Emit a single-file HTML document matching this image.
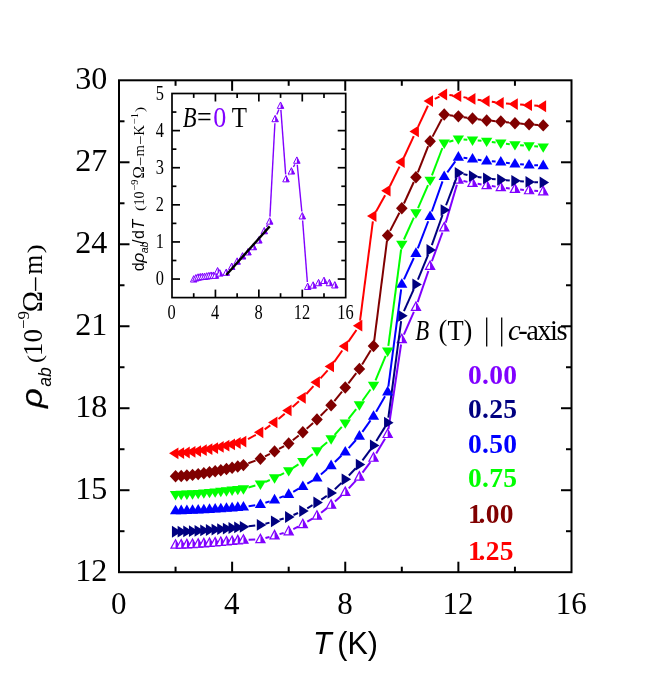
<!DOCTYPE html>
<html><head><meta charset="utf-8"><title>chart</title>
<style>html,body{margin:0;padding:0;background:#fff}svg{display:block;will-change:transform;transform:translateZ(0)}text{white-space:pre}</style></head>
<body>
<svg width="664" height="686" viewBox="0 0 664 686">
<rect width="664" height="686" fill="#fff"/>
<g>
<line x1="248.63" y1="539.79" x2="255.21" y2="539.57" stroke="#8000ff" stroke-width="2"/><line x1="265.43" y1="538.05" x2="269.53" y2="536.94" stroke="#8000ff" stroke-width="2"/><line x1="279.54" y1="534.13" x2="283.69" y2="532.93" stroke="#8000ff" stroke-width="2"/><line x1="293.33" y1="529.15" x2="298.18" y2="526.71" stroke="#8000ff" stroke-width="2"/><line x1="307.29" y1="521.70" x2="312.51" y2="518.58" stroke="#8000ff" stroke-width="2"/><line x1="321.08" y1="512.72" x2="327.00" y2="508.15" stroke="#8000ff" stroke-width="2"/><line x1="334.96" y1="501.48" x2="341.40" y2="495.63" stroke="#8000ff" stroke-width="2"/><line x1="348.78" y1="488.31" x2="355.86" y2="480.65" stroke="#8000ff" stroke-width="2"/><line x1="362.51" y1="472.67" x2="370.41" y2="462.13" stroke="#8000ff" stroke-width="2"/><line x1="376.19" y1="453.50" x2="385.01" y2="438.66" stroke="#8000ff" stroke-width="2"/><line x1="388.44" y1="429.05" x2="401.05" y2="344.51" stroke="#8000ff" stroke-width="2"/><line x1="403.90" y1="334.61" x2="413.86" y2="311.88" stroke="#8000ff" stroke-width="2"/><line x1="417.65" y1="302.20" x2="428.40" y2="271.04" stroke="#8000ff" stroke-width="2"/><line x1="431.89" y1="261.25" x2="442.44" y2="232.48" stroke="#8000ff" stroke-width="2"/><line x1="445.71" y1="222.61" x2="456.90" y2="184.76" stroke="#8000ff" stroke-width="2"/><line x1="463.44" y1="180.95" x2="467.45" y2="181.88" stroke="#8000ff" stroke-width="2"/><line x1="477.65" y1="183.85" x2="481.52" y2="184.44" stroke="#8000ff" stroke-width="2"/><line x1="491.80" y1="186.03" x2="495.66" y2="186.63" stroke="#8000ff" stroke-width="2"/><line x1="505.96" y1="188.02" x2="509.77" y2="188.47" stroke="#8000ff" stroke-width="2"/><line x1="520.11" y1="189.56" x2="523.90" y2="189.93" stroke="#8000ff" stroke-width="2"/><line x1="534.26" y1="190.83" x2="538.03" y2="191.12" stroke="#8000ff" stroke-width="2"/>
<polygon points="175.56,539.67 180.16,548.17 170.96,548.17" fill="#fff" stroke="#8000ff" stroke-width="1.20" stroke-linejoin="miter"/><polygon points="175.56,539.67 180.16,548.17 175.56,548.17" fill="#8000ff"/>
<polygon points="181.22,539.55 185.82,548.05 176.62,548.05" fill="#fff" stroke="#8000ff" stroke-width="1.20" stroke-linejoin="miter"/><polygon points="181.22,539.55 185.82,548.05 181.22,548.05" fill="#8000ff"/>
<polygon points="186.88,539.34 191.47,547.84 182.28,547.84" fill="#fff" stroke="#8000ff" stroke-width="1.20" stroke-linejoin="miter"/><polygon points="186.88,539.34 191.47,547.84 186.88,547.84" fill="#8000ff"/>
<polygon points="192.53,539.06 197.13,547.56 187.93,547.56" fill="#fff" stroke="#8000ff" stroke-width="1.20" stroke-linejoin="miter"/><polygon points="192.53,539.06 197.13,547.56 192.53,547.56" fill="#8000ff"/>
<polygon points="198.19,538.73 202.79,547.23 193.59,547.23" fill="#fff" stroke="#8000ff" stroke-width="1.20" stroke-linejoin="miter"/><polygon points="198.19,538.73 202.79,547.23 198.19,547.23" fill="#8000ff"/>
<polygon points="203.84,538.35 208.44,546.85 199.24,546.85" fill="#fff" stroke="#8000ff" stroke-width="1.20" stroke-linejoin="miter"/><polygon points="203.84,538.35 208.44,546.85 203.84,546.85" fill="#8000ff"/>
<polygon points="209.50,537.93 214.10,546.43 204.90,546.43" fill="#fff" stroke="#8000ff" stroke-width="1.20" stroke-linejoin="miter"/><polygon points="209.50,537.93 214.10,546.43 209.50,546.43" fill="#8000ff"/>
<polygon points="215.16,537.48 219.76,545.98 210.56,545.98" fill="#fff" stroke="#8000ff" stroke-width="1.20" stroke-linejoin="miter"/><polygon points="215.16,537.48 219.76,545.98 215.16,545.98" fill="#8000ff"/>
<polygon points="220.81,536.99 225.41,545.49 216.21,545.49" fill="#fff" stroke="#8000ff" stroke-width="1.20" stroke-linejoin="miter"/><polygon points="220.81,536.99 225.41,545.49 220.81,545.49" fill="#8000ff"/>
<polygon points="226.47,536.48 231.07,544.98 221.87,544.98" fill="#fff" stroke="#8000ff" stroke-width="1.20" stroke-linejoin="miter"/><polygon points="226.47,536.48 231.07,544.98 226.47,544.98" fill="#8000ff"/>
<polygon points="232.12,535.93 236.72,544.43 227.53,544.43" fill="#fff" stroke="#8000ff" stroke-width="1.20" stroke-linejoin="miter"/><polygon points="232.12,535.93 236.72,544.43 232.12,544.43" fill="#8000ff"/>
<polygon points="237.78,535.36 242.38,543.86 233.18,543.86" fill="#fff" stroke="#8000ff" stroke-width="1.20" stroke-linejoin="miter"/><polygon points="237.78,535.36 242.38,543.86 237.78,543.86" fill="#8000ff"/>
<polygon points="243.44,534.75 248.04,543.25 238.84,543.25" fill="#fff" stroke="#8000ff" stroke-width="1.20" stroke-linejoin="miter"/><polygon points="243.44,534.75 248.04,543.25 243.44,543.25" fill="#8000ff"/>
<polygon points="260.41,534.21 265.01,542.71 255.81,542.71" fill="#fff" stroke="#8000ff" stroke-width="1.20" stroke-linejoin="miter"/><polygon points="260.41,534.21 265.01,542.71 260.41,542.71" fill="#8000ff"/>
<polygon points="274.55,530.38 279.15,538.88 269.95,538.88" fill="#fff" stroke="#8000ff" stroke-width="1.20" stroke-linejoin="miter"/><polygon points="274.55,530.38 279.15,538.88 274.55,538.88" fill="#8000ff"/>
<polygon points="288.69,526.28 293.29,534.78 284.09,534.78" fill="#fff" stroke="#8000ff" stroke-width="1.20" stroke-linejoin="miter"/><polygon points="288.69,526.28 293.29,534.78 288.69,534.78" fill="#8000ff"/>
<polygon points="302.83,519.18 307.43,527.68 298.23,527.68" fill="#fff" stroke="#8000ff" stroke-width="1.20" stroke-linejoin="miter"/><polygon points="302.83,519.18 307.43,527.68 302.83,527.68" fill="#8000ff"/>
<polygon points="316.97,510.70 321.57,519.20 312.37,519.20" fill="#fff" stroke="#8000ff" stroke-width="1.20" stroke-linejoin="miter"/><polygon points="316.97,510.70 321.57,519.20 316.97,519.20" fill="#8000ff"/>
<polygon points="331.11,499.77 335.71,508.27 326.51,508.27" fill="#fff" stroke="#8000ff" stroke-width="1.20" stroke-linejoin="miter"/><polygon points="331.11,499.77 335.71,508.27 331.11,508.27" fill="#8000ff"/>
<polygon points="345.25,486.93 349.85,495.43 340.65,495.43" fill="#fff" stroke="#8000ff" stroke-width="1.20" stroke-linejoin="miter"/><polygon points="345.25,486.93 349.85,495.43 345.25,495.43" fill="#8000ff"/>
<polygon points="359.39,471.63 363.99,480.13 354.79,480.13" fill="#fff" stroke="#8000ff" stroke-width="1.20" stroke-linejoin="miter"/><polygon points="359.39,471.63 363.99,480.13 359.39,480.13" fill="#8000ff"/>
<polygon points="373.53,452.77 378.13,461.27 368.93,461.27" fill="#fff" stroke="#8000ff" stroke-width="1.20" stroke-linejoin="miter"/><polygon points="373.53,452.77 378.13,461.27 373.53,461.27" fill="#8000ff"/>
<polygon points="387.67,428.99 392.27,437.49 383.07,437.49" fill="#fff" stroke="#8000ff" stroke-width="1.20" stroke-linejoin="miter"/><polygon points="387.67,428.99 392.27,437.49 387.67,437.49" fill="#8000ff"/>
<polygon points="401.81,334.17 406.41,342.67 397.21,342.67" fill="#fff" stroke="#8000ff" stroke-width="1.20" stroke-linejoin="miter"/><polygon points="401.81,334.17 406.41,342.67 401.81,342.67" fill="#8000ff"/>
<polygon points="415.95,301.92 420.55,310.42 411.35,310.42" fill="#fff" stroke="#8000ff" stroke-width="1.20" stroke-linejoin="miter"/><polygon points="415.95,301.92 420.55,310.42 415.95,310.42" fill="#8000ff"/>
<polygon points="430.09,260.93 434.69,269.43 425.49,269.43" fill="#fff" stroke="#8000ff" stroke-width="1.20" stroke-linejoin="miter"/><polygon points="430.09,260.93 434.69,269.43 430.09,269.43" fill="#8000ff"/>
<polygon points="444.23,222.40 448.83,230.90 439.63,230.90" fill="#fff" stroke="#8000ff" stroke-width="1.20" stroke-linejoin="miter"/><polygon points="444.23,222.40 448.83,230.90 444.23,230.90" fill="#8000ff"/>
<polygon points="458.38,174.57 462.98,183.07 453.77,183.07" fill="#fff" stroke="#8000ff" stroke-width="1.20" stroke-linejoin="miter"/><polygon points="458.38,174.57 462.98,183.07 458.38,183.07" fill="#8000ff"/>
<polygon points="472.52,177.85 477.12,186.35 467.92,186.35" fill="#fff" stroke="#8000ff" stroke-width="1.20" stroke-linejoin="miter"/><polygon points="472.52,177.85 477.12,186.35 472.52,186.35" fill="#8000ff"/>
<polygon points="486.66,180.04 491.26,188.54 482.06,188.54" fill="#fff" stroke="#8000ff" stroke-width="1.20" stroke-linejoin="miter"/><polygon points="486.66,180.04 491.26,188.54 486.66,188.54" fill="#8000ff"/>
<polygon points="500.80,182.22 505.40,190.72 496.20,190.72" fill="#fff" stroke="#8000ff" stroke-width="1.20" stroke-linejoin="miter"/><polygon points="500.80,182.22 505.40,190.72 500.80,190.72" fill="#8000ff"/>
<polygon points="514.94,183.86 519.54,192.36 510.34,192.36" fill="#fff" stroke="#8000ff" stroke-width="1.20" stroke-linejoin="miter"/><polygon points="514.94,183.86 519.54,192.36 514.94,192.36" fill="#8000ff"/>
<polygon points="529.08,185.23 533.68,193.73 524.48,193.73" fill="#fff" stroke="#8000ff" stroke-width="1.20" stroke-linejoin="miter"/><polygon points="529.08,185.23 533.68,193.73 529.08,193.73" fill="#8000ff"/>
<polygon points="543.22,186.32 547.82,194.82 538.62,194.82" fill="#fff" stroke="#8000ff" stroke-width="1.20" stroke-linejoin="miter"/><polygon points="543.22,186.32 547.82,194.82 543.22,194.82" fill="#8000ff"/>
</g>
<g>
<line x1="248.60" y1="526.25" x2="255.24" y2="525.51" stroke="#000080" stroke-width="2"/><line x1="265.45" y1="523.66" x2="269.50" y2="522.64" stroke="#000080" stroke-width="2"/><line x1="279.51" y1="519.83" x2="283.72" y2="518.53" stroke="#000080" stroke-width="2"/><line x1="293.47" y1="514.96" x2="298.04" y2="513.02" stroke="#000080" stroke-width="2"/><line x1="307.29" y1="508.31" x2="312.51" y2="505.19" stroke="#000080" stroke-width="2"/><line x1="321.28" y1="499.60" x2="326.80" y2="495.86" stroke="#000080" stroke-width="2"/><line x1="334.85" y1="489.34" x2="341.51" y2="482.90" stroke="#000080" stroke-width="2"/><line x1="348.85" y1="475.53" x2="355.79" y2="468.28" stroke="#000080" stroke-width="2"/><line x1="362.48" y1="460.35" x2="370.44" y2="449.58" stroke="#000080" stroke-width="2"/><line x1="376.28" y1="440.99" x2="384.92" y2="427.13" stroke="#000080" stroke-width="2"/><line x1="388.35" y1="417.56" x2="401.13" y2="321.02" stroke="#000080" stroke-width="2"/><line x1="403.95" y1="311.12" x2="413.82" y2="289.18" stroke="#000080" stroke-width="2"/><line x1="417.93" y1="279.63" x2="428.12" y2="254.82" stroke="#000080" stroke-width="2"/><line x1="431.83" y1="245.10" x2="442.50" y2="215.01" stroke="#000080" stroke-width="2"/><line x1="446.08" y1="205.25" x2="456.53" y2="177.80" stroke="#000080" stroke-width="2"/><line x1="463.44" y1="174.12" x2="467.45" y2="175.05" stroke="#000080" stroke-width="2"/><line x1="477.65" y1="177.02" x2="481.52" y2="177.61" stroke="#000080" stroke-width="2"/><line x1="491.83" y1="178.91" x2="495.62" y2="179.27" stroke="#000080" stroke-width="2"/><line x1="505.98" y1="180.17" x2="509.75" y2="180.47" stroke="#000080" stroke-width="2"/><line x1="520.12" y1="181.27" x2="523.89" y2="181.56" stroke="#000080" stroke-width="2"/><line x1="534.27" y1="182.16" x2="538.02" y2="182.31" stroke="#000080" stroke-width="2"/>
<polygon points="181.46,531.75 171.96,537.65 171.96,525.85" fill="#000080"/>
<polygon points="187.12,531.64 177.62,537.54 177.62,525.74" fill="#000080"/>
<polygon points="192.78,531.42 183.28,537.32 183.28,525.52" fill="#000080"/>
<polygon points="198.43,531.14 188.93,537.04 188.93,525.24" fill="#000080"/>
<polygon points="204.09,530.81 194.59,536.71 194.59,524.91" fill="#000080"/>
<polygon points="209.74,530.43 200.24,536.33 200.24,524.53" fill="#000080"/>
<polygon points="215.40,530.02 205.90,535.92 205.90,524.12" fill="#000080"/>
<polygon points="221.06,529.56 211.56,535.46 211.56,523.66" fill="#000080"/>
<polygon points="226.71,529.08 217.21,534.98 217.21,523.18" fill="#000080"/>
<polygon points="232.37,528.56 222.87,534.46 222.87,522.66" fill="#000080"/>
<polygon points="238.03,528.01 228.53,533.91 228.53,522.11" fill="#000080"/>
<polygon points="243.68,527.44 234.18,533.34 234.18,521.54" fill="#000080"/>
<polygon points="249.34,526.84 239.84,532.74 239.84,520.94" fill="#000080"/>
<polygon points="266.31,524.92 256.81,530.82 256.81,519.02" fill="#000080"/>
<polygon points="280.45,521.37 270.95,527.27 270.95,515.47" fill="#000080"/>
<polygon points="294.59,517.00 285.09,522.90 285.09,511.10" fill="#000080"/>
<polygon points="308.73,510.99 299.23,516.89 299.23,505.09" fill="#000080"/>
<polygon points="322.87,502.51 313.37,508.41 313.37,496.61" fill="#000080"/>
<polygon points="337.01,492.95 327.51,498.85 327.51,487.05" fill="#000080"/>
<polygon points="351.15,479.29 341.65,485.19 341.65,473.39" fill="#000080"/>
<polygon points="365.29,464.53 355.79,470.43 355.79,458.63" fill="#000080"/>
<polygon points="379.43,445.40 369.93,451.30 369.93,439.50" fill="#000080"/>
<polygon points="393.57,422.72 384.07,428.62 384.07,416.82" fill="#000080"/>
<polygon points="407.71,315.87 398.21,321.77 398.21,309.97" fill="#000080"/>
<polygon points="421.85,284.44 412.35,290.34 412.35,278.54" fill="#000080"/>
<polygon points="435.99,250.01 426.49,255.91 426.49,244.11" fill="#000080"/>
<polygon points="450.13,210.11 440.63,216.01 440.63,204.21" fill="#000080"/>
<polygon points="464.27,172.94 454.77,178.84 454.77,167.04" fill="#000080"/>
<polygon points="478.42,176.22 468.92,182.12 468.92,170.32" fill="#000080"/>
<polygon points="492.56,178.41 483.06,184.31 483.06,172.51" fill="#000080"/>
<polygon points="506.70,179.77 497.20,185.67 497.20,173.87" fill="#000080"/>
<polygon points="520.84,180.87 511.34,186.77 511.34,174.97" fill="#000080"/>
<polygon points="534.98,181.96 525.48,187.86 525.48,176.06" fill="#000080"/>
<polygon points="549.12,182.51 539.62,188.41 539.62,176.61" fill="#000080"/>
</g>
<g>
<line x1="248.58" y1="506.14" x2="255.26" y2="505.17" stroke="#0000ff" stroke-width="2"/><line x1="265.35" y1="502.80" x2="269.61" y2="501.40" stroke="#0000ff" stroke-width="2"/><line x1="279.40" y1="497.91" x2="283.84" y2="496.19" stroke="#0000ff" stroke-width="2"/><line x1="293.22" y1="491.77" x2="298.29" y2="488.93" stroke="#0000ff" stroke-width="2"/><line x1="307.29" y1="483.72" x2="312.51" y2="480.59" stroke="#0000ff" stroke-width="2"/><line x1="320.89" y1="474.51" x2="327.19" y2="469.03" stroke="#0000ff" stroke-width="2"/><line x1="334.85" y1="462.01" x2="341.51" y2="455.57" stroke="#0000ff" stroke-width="2"/><line x1="348.71" y1="448.08" x2="355.93" y2="439.99" stroke="#0000ff" stroke-width="2"/><line x1="362.40" y1="431.87" x2="370.52" y2="420.40" stroke="#0000ff" stroke-width="2"/><line x1="376.14" y1="411.66" x2="385.06" y2="396.33" stroke="#0000ff" stroke-width="2"/><line x1="388.35" y1="386.68" x2="401.14" y2="289.32" stroke="#0000ff" stroke-width="2"/><line x1="403.98" y1="279.44" x2="413.79" y2="258.01" stroke="#0000ff" stroke-width="2"/><line x1="417.81" y1="248.43" x2="428.23" y2="221.25" stroke="#0000ff" stroke-width="2"/><line x1="431.83" y1="211.49" x2="442.50" y2="181.40" stroke="#0000ff" stroke-width="2"/><line x1="447.30" y1="172.29" x2="455.31" y2="161.29" stroke="#0000ff" stroke-width="2"/><line x1="463.53" y1="157.79" x2="467.36" y2="158.31" stroke="#0000ff" stroke-width="2"/><line x1="477.67" y1="159.70" x2="481.50" y2="160.22" stroke="#0000ff" stroke-width="2"/><line x1="491.84" y1="161.32" x2="495.61" y2="161.61" stroke="#0000ff" stroke-width="2"/><line x1="505.95" y1="162.71" x2="509.78" y2="163.23" stroke="#0000ff" stroke-width="2"/><line x1="520.12" y1="164.32" x2="523.89" y2="164.62" stroke="#0000ff" stroke-width="2"/><line x1="534.27" y1="165.22" x2="538.02" y2="165.36" stroke="#0000ff" stroke-width="2"/>
<polygon points="175.56,504.71 181.16,514.31 169.96,514.31" fill="#0000ff"/>
<polygon points="181.22,504.62 186.82,514.22 175.62,514.22" fill="#0000ff"/>
<polygon points="186.88,504.45 192.47,514.05 181.28,514.05" fill="#0000ff"/>
<polygon points="192.53,504.23 198.13,513.83 186.93,513.83" fill="#0000ff"/>
<polygon points="198.19,503.98 203.79,513.58 192.59,513.58" fill="#0000ff"/>
<polygon points="203.84,503.68 209.44,513.28 198.24,513.28" fill="#0000ff"/>
<polygon points="209.50,503.36 215.10,512.96 203.90,512.96" fill="#0000ff"/>
<polygon points="215.16,503.01 220.76,512.61 209.56,512.61" fill="#0000ff"/>
<polygon points="220.81,502.63 226.41,512.23 215.21,512.23" fill="#0000ff"/>
<polygon points="226.47,502.23 232.07,511.83 220.87,511.83" fill="#0000ff"/>
<polygon points="232.12,501.80 237.72,511.40 226.53,511.40" fill="#0000ff"/>
<polygon points="237.78,501.35 243.38,510.95 232.18,510.95" fill="#0000ff"/>
<polygon points="243.44,500.89 249.04,510.49 237.84,510.49" fill="#0000ff"/>
<polygon points="260.41,498.43 266.01,508.03 254.81,508.03" fill="#0000ff"/>
<polygon points="274.55,493.78 280.15,503.38 268.95,503.38" fill="#0000ff"/>
<polygon points="288.69,488.32 294.29,497.92 283.09,497.92" fill="#0000ff"/>
<polygon points="302.83,480.39 308.43,489.99 297.23,489.99" fill="#0000ff"/>
<polygon points="316.97,471.92 322.57,481.52 311.37,481.52" fill="#0000ff"/>
<polygon points="331.11,459.62 336.71,469.22 325.51,469.22" fill="#0000ff"/>
<polygon points="345.25,445.96 350.85,455.56 339.65,455.56" fill="#0000ff"/>
<polygon points="359.39,430.11 364.99,439.71 353.79,439.71" fill="#0000ff"/>
<polygon points="373.53,410.16 379.13,419.76 367.93,419.76" fill="#0000ff"/>
<polygon points="387.67,385.84 393.27,395.44 382.07,395.44" fill="#0000ff"/>
<polygon points="401.81,278.17 407.41,287.77 396.21,287.77" fill="#0000ff"/>
<polygon points="415.95,247.28 421.55,256.88 410.35,256.88" fill="#0000ff"/>
<polygon points="430.09,210.39 435.69,219.99 424.49,219.99" fill="#0000ff"/>
<polygon points="444.23,170.49 449.83,180.09 438.63,180.09" fill="#0000ff"/>
<polygon points="458.38,151.09 463.98,160.69 452.77,160.69" fill="#0000ff"/>
<polygon points="472.52,153.00 478.12,162.60 466.92,162.60" fill="#0000ff"/>
<polygon points="486.66,154.92 492.26,164.52 481.06,164.52" fill="#0000ff"/>
<polygon points="500.80,156.01 506.40,165.61 495.20,165.61" fill="#0000ff"/>
<polygon points="514.94,157.92 520.54,167.52 509.34,167.52" fill="#0000ff"/>
<polygon points="529.08,159.02 534.68,168.62 523.48,168.62" fill="#0000ff"/>
<polygon points="543.22,159.56 548.82,169.16 537.62,169.16" fill="#0000ff"/>
</g>
<g>
<line x1="248.45" y1="487.48" x2="255.39" y2="485.58" stroke="#00ff00" stroke-width="2"/><line x1="265.16" y1="482.09" x2="269.80" y2="480.03" stroke="#00ff00" stroke-width="2"/><line x1="279.19" y1="475.58" x2="284.04" y2="473.15" stroke="#00ff00" stroke-width="2"/><line x1="293.03" y1="467.96" x2="298.48" y2="464.38" stroke="#00ff00" stroke-width="2"/><line x1="306.98" y1="458.39" x2="312.82" y2="453.99" stroke="#00ff00" stroke-width="2"/><line x1="320.93" y1="447.50" x2="327.15" y2="442.21" stroke="#00ff00" stroke-width="2"/><line x1="334.57" y1="434.96" x2="341.79" y2="426.87" stroke="#00ff00" stroke-width="2"/><line x1="348.46" y1="418.90" x2="356.18" y2="409.05" stroke="#00ff00" stroke-width="2"/><line x1="362.43" y1="400.73" x2="370.50" y2="389.50" stroke="#00ff00" stroke-width="2"/><line x1="375.52" y1="380.47" x2="385.68" y2="355.92" stroke="#00ff00" stroke-width="2"/><line x1="388.35" y1="345.96" x2="401.13" y2="249.42" stroke="#00ff00" stroke-width="2"/><line x1="403.95" y1="239.52" x2="413.82" y2="217.58" stroke="#00ff00" stroke-width="2"/><line x1="418.03" y1="208.07" x2="428.02" y2="185.09" stroke="#00ff00" stroke-width="2"/><line x1="431.94" y1="175.46" x2="442.39" y2="148.01" stroke="#00ff00" stroke-width="2"/><line x1="449.23" y1="141.71" x2="453.38" y2="140.50" stroke="#00ff00" stroke-width="2"/><line x1="463.56" y1="139.46" x2="467.33" y2="139.75" stroke="#00ff00" stroke-width="2"/><line x1="477.70" y1="140.55" x2="481.47" y2="140.84" stroke="#00ff00" stroke-width="2"/><line x1="491.81" y1="141.94" x2="495.64" y2="142.46" stroke="#00ff00" stroke-width="2"/><line x1="505.96" y1="143.75" x2="509.77" y2="144.19" stroke="#00ff00" stroke-width="2"/><line x1="520.12" y1="145.19" x2="523.89" y2="145.49" stroke="#00ff00" stroke-width="2"/><line x1="534.26" y1="146.29" x2="538.03" y2="146.58" stroke="#00ff00" stroke-width="2"/>
<polygon points="175.56,500.39 181.26,490.99 169.86,490.99" fill="#00ff00"/>
<polygon points="181.22,500.25 186.92,490.85 175.52,490.85" fill="#00ff00"/>
<polygon points="186.88,500.00 192.57,490.60 181.18,490.60" fill="#00ff00"/>
<polygon points="192.53,499.67 198.23,490.27 186.83,490.27" fill="#00ff00"/>
<polygon points="198.19,499.28 203.89,489.88 192.49,489.88" fill="#00ff00"/>
<polygon points="203.84,498.85 209.54,489.45 198.14,489.45" fill="#00ff00"/>
<polygon points="209.50,498.36 215.20,488.96 203.80,488.96" fill="#00ff00"/>
<polygon points="215.16,497.83 220.86,488.43 209.46,488.43" fill="#00ff00"/>
<polygon points="220.81,497.27 226.51,487.87 215.11,487.87" fill="#00ff00"/>
<polygon points="226.47,496.66 232.17,487.26 220.77,487.26" fill="#00ff00"/>
<polygon points="232.12,496.02 237.82,486.62 226.43,486.62" fill="#00ff00"/>
<polygon points="237.78,495.35 243.48,485.95 232.08,485.95" fill="#00ff00"/>
<polygon points="243.44,494.65 249.14,485.25 237.74,485.25" fill="#00ff00"/>
<polygon points="260.41,490.00 266.11,480.60 254.71,480.60" fill="#00ff00"/>
<polygon points="274.55,483.72 280.25,474.32 268.85,474.32" fill="#00ff00"/>
<polygon points="288.69,476.61 294.39,467.21 282.99,467.21" fill="#00ff00"/>
<polygon points="302.83,467.32 308.53,457.92 297.13,457.92" fill="#00ff00"/>
<polygon points="316.97,456.66 322.67,447.26 311.27,447.26" fill="#00ff00"/>
<polygon points="331.11,444.64 336.81,435.24 325.41,435.24" fill="#00ff00"/>
<polygon points="345.25,428.79 350.95,419.39 339.55,419.39" fill="#00ff00"/>
<polygon points="359.39,410.75 365.09,401.35 353.69,401.35" fill="#00ff00"/>
<polygon points="373.53,391.08 379.23,381.68 367.83,381.68" fill="#00ff00"/>
<polygon points="387.67,356.92 393.37,347.52 381.97,347.52" fill="#00ff00"/>
<polygon points="401.81,250.07 407.51,240.67 396.11,240.67" fill="#00ff00"/>
<polygon points="415.95,218.64 421.65,209.24 410.25,209.24" fill="#00ff00"/>
<polygon points="430.09,186.12 435.79,176.72 424.39,176.72" fill="#00ff00"/>
<polygon points="444.23,148.95 449.93,139.55 438.53,139.55" fill="#00ff00"/>
<polygon points="458.38,144.85 464.07,135.45 452.68,135.45" fill="#00ff00"/>
<polygon points="472.52,145.95 478.22,136.55 466.82,136.55" fill="#00ff00"/>
<polygon points="486.66,147.04 492.36,137.64 480.96,137.64" fill="#00ff00"/>
<polygon points="500.80,148.95 506.50,139.55 495.10,139.55" fill="#00ff00"/>
<polygon points="514.94,150.59 520.64,141.19 509.24,141.19" fill="#00ff00"/>
<polygon points="529.08,151.69 534.78,142.29 523.38,142.29" fill="#00ff00"/>
<polygon points="543.22,152.78 548.92,143.38 537.52,143.38" fill="#00ff00"/>
</g>
<g>
<line x1="248.31" y1="463.27" x2="255.53" y2="460.60" stroke="#800000" stroke-width="2"/><line x1="265.02" y1="456.38" x2="269.94" y2="453.82" stroke="#800000" stroke-width="2"/><line x1="279.08" y1="448.87" x2="284.15" y2="446.03" stroke="#800000" stroke-width="2"/><line x1="292.76" y1="440.26" x2="298.75" y2="435.51" stroke="#800000" stroke-width="2"/><line x1="306.68" y1="428.79" x2="313.12" y2="422.93" stroke="#800000" stroke-width="2"/><line x1="320.64" y1="415.75" x2="327.44" y2="408.91" stroke="#800000" stroke-width="2"/><line x1="334.35" y1="401.16" x2="342.01" y2="391.53" stroke="#800000" stroke-width="2"/><line x1="348.40" y1="383.33" x2="356.24" y2="373.02" stroke="#800000" stroke-width="2"/><line x1="362.12" y1="364.45" x2="370.80" y2="350.35" stroke="#800000" stroke-width="2"/><line x1="374.19" y1="340.77" x2="387.01" y2="240.68" stroke="#800000" stroke-width="2"/><line x1="390.06" y1="230.90" x2="399.42" y2="212.81" stroke="#800000" stroke-width="2"/><line x1="403.98" y1="203.47" x2="413.79" y2="182.04" stroke="#800000" stroke-width="2"/><line x1="417.85" y1="172.47" x2="428.20" y2="146.08" stroke="#800000" stroke-width="2"/><line x1="432.52" y1="136.64" x2="441.81" y2="119.06" stroke="#800000" stroke-width="2"/><line x1="449.39" y1="115.16" x2="453.22" y2="115.68" stroke="#800000" stroke-width="2"/><line x1="463.51" y1="117.17" x2="467.38" y2="117.76" stroke="#800000" stroke-width="2"/><line x1="477.67" y1="119.26" x2="481.50" y2="119.77" stroke="#800000" stroke-width="2"/><line x1="491.84" y1="120.87" x2="495.61" y2="121.16" stroke="#800000" stroke-width="2"/><line x1="505.96" y1="122.16" x2="509.77" y2="122.61" stroke="#800000" stroke-width="2"/><line x1="520.12" y1="123.61" x2="523.89" y2="123.90" stroke="#800000" stroke-width="2"/><line x1="534.26" y1="124.70" x2="538.03" y2="124.99" stroke="#800000" stroke-width="2"/>
<polygon points="175.56,470.08 181.36,476.28 175.56,482.48 169.76,476.28" fill="#800000"/>
<polygon points="181.22,469.81 187.02,476.01 181.22,482.21 175.42,476.01" fill="#800000"/>
<polygon points="186.88,469.32 192.68,475.52 186.88,481.72 181.07,475.52" fill="#800000"/>
<polygon points="192.53,468.68 198.33,474.88 192.53,481.08 186.73,474.88" fill="#800000"/>
<polygon points="198.19,467.92 203.99,474.12 198.19,480.32 192.39,474.12" fill="#800000"/>
<polygon points="203.84,467.07 209.64,473.27 203.84,479.47 198.04,473.27" fill="#800000"/>
<polygon points="209.50,466.12 215.30,472.32 209.50,478.52 203.70,472.32" fill="#800000"/>
<polygon points="215.16,465.09 220.96,471.29 215.16,477.49 209.36,471.29" fill="#800000"/>
<polygon points="220.81,463.98 226.61,470.18 220.81,476.38 215.01,470.18" fill="#800000"/>
<polygon points="226.47,462.80 232.27,469.00 226.47,475.20 220.67,469.00" fill="#800000"/>
<polygon points="232.12,461.56 237.93,467.76 232.12,473.96 226.32,467.76" fill="#800000"/>
<polygon points="237.78,460.25 243.58,466.45 237.78,472.65 231.98,466.45" fill="#800000"/>
<polygon points="243.44,458.88 249.24,465.08 243.44,471.28 237.64,465.08" fill="#800000"/>
<polygon points="260.41,452.59 266.21,458.79 260.41,464.99 254.61,458.79" fill="#800000"/>
<polygon points="274.55,445.21 280.35,451.41 274.55,457.61 268.75,451.41" fill="#800000"/>
<polygon points="288.69,437.29 294.49,443.49 288.69,449.69 282.89,443.49" fill="#800000"/>
<polygon points="302.83,426.08 308.63,432.28 302.83,438.48 297.03,432.28" fill="#800000"/>
<polygon points="316.97,413.24 322.77,419.44 316.97,425.64 311.17,419.44" fill="#800000"/>
<polygon points="331.11,399.03 336.91,405.23 331.11,411.43 325.31,405.23" fill="#800000"/>
<polygon points="345.25,381.26 351.05,387.46 345.25,393.66 339.45,387.46" fill="#800000"/>
<polygon points="359.39,362.68 365.19,368.88 359.39,375.08 353.59,368.88" fill="#800000"/>
<polygon points="373.53,339.73 379.33,345.93 373.53,352.13 367.73,345.93" fill="#800000"/>
<polygon points="387.67,229.32 393.47,235.52 387.67,241.72 381.87,235.52" fill="#800000"/>
<polygon points="401.81,201.99 407.61,208.19 401.81,214.39 396.01,208.19" fill="#800000"/>
<polygon points="415.95,171.11 421.75,177.31 415.95,183.51 410.15,177.31" fill="#800000"/>
<polygon points="430.09,135.04 435.89,141.24 430.09,147.44 424.29,141.24" fill="#800000"/>
<polygon points="444.23,108.26 450.03,114.46 444.23,120.66 438.43,114.46" fill="#800000"/>
<polygon points="458.38,110.17 464.18,116.37 458.38,122.57 452.57,116.37" fill="#800000"/>
<polygon points="472.52,112.36 478.32,118.56 472.52,124.76 466.72,118.56" fill="#800000"/>
<polygon points="486.66,114.27 492.46,120.47 486.66,126.67 480.86,120.47" fill="#800000"/>
<polygon points="500.80,115.36 506.60,121.56 500.80,127.76 495.00,121.56" fill="#800000"/>
<polygon points="514.94,117.00 520.74,123.20 514.94,129.40 509.14,123.20" fill="#800000"/>
<polygon points="529.08,118.10 534.88,124.30 529.08,130.50 523.28,124.30" fill="#800000"/>
<polygon points="543.22,119.19 549.02,125.39 543.22,131.59 537.42,125.39" fill="#800000"/>
</g>
<g>
<line x1="248.00" y1="439.08" x2="255.85" y2="434.78" stroke="#ff0000" stroke-width="2"/><line x1="264.67" y1="429.31" x2="270.28" y2="425.41" stroke="#ff0000" stroke-width="2"/><line x1="278.51" y1="419.08" x2="284.73" y2="413.79" stroke="#ff0000" stroke-width="2"/><line x1="292.57" y1="406.96" x2="298.94" y2="401.30" stroke="#ff0000" stroke-width="2"/><line x1="306.32" y1="394.00" x2="313.47" y2="386.12" stroke="#ff0000" stroke-width="2"/><line x1="320.43" y1="378.39" x2="327.65" y2="370.30" stroke="#ff0000" stroke-width="2"/><line x1="334.09" y1="362.16" x2="342.27" y2="350.46" stroke="#ff0000" stroke-width="2"/><line x1="348.20" y1="341.92" x2="356.44" y2="329.98" stroke="#ff0000" stroke-width="2"/><line x1="360.06" y1="320.55" x2="372.87" y2="221.28" stroke="#ff0000" stroke-width="2"/><line x1="376.06" y1="211.58" x2="385.14" y2="195.25" stroke="#ff0000" stroke-width="2"/><line x1="389.97" y1="186.04" x2="399.51" y2="166.67" stroke="#ff0000" stroke-width="2"/><line x1="403.99" y1="157.29" x2="413.77" y2="136.12" stroke="#ff0000" stroke-width="2"/><line x1="418.15" y1="126.69" x2="427.90" y2="105.78" stroke="#ff0000" stroke-width="2"/><line x1="434.81" y1="98.88" x2="439.52" y2="96.70" stroke="#ff0000" stroke-width="2"/><line x1="449.40" y1="95.11" x2="453.21" y2="95.55" stroke="#ff0000" stroke-width="2"/><line x1="463.48" y1="97.14" x2="467.41" y2="97.90" stroke="#ff0000" stroke-width="2"/><line x1="477.65" y1="99.68" x2="481.52" y2="100.27" stroke="#ff0000" stroke-width="2"/><line x1="491.81" y1="101.77" x2="495.64" y2="102.28" stroke="#ff0000" stroke-width="2"/><line x1="505.98" y1="103.38" x2="509.75" y2="103.67" stroke="#ff0000" stroke-width="2"/><line x1="520.12" y1="104.48" x2="523.89" y2="104.77" stroke="#ff0000" stroke-width="2"/><line x1="534.26" y1="105.57" x2="538.03" y2="105.86" stroke="#ff0000" stroke-width="2"/>
<polygon points="169.06,453.32 178.46,459.22 178.46,447.42" fill="#ff0000"/>
<polygon points="174.72,453.04 184.12,458.94 184.12,447.14" fill="#ff0000"/>
<polygon points="180.38,452.52 189.78,458.42 189.78,446.62" fill="#ff0000"/>
<polygon points="186.03,451.86 195.43,457.76 195.43,445.96" fill="#ff0000"/>
<polygon points="191.69,451.06 201.09,456.96 201.09,445.16" fill="#ff0000"/>
<polygon points="197.34,450.16 206.74,456.06 206.74,444.26" fill="#ff0000"/>
<polygon points="203.00,449.17 212.40,455.07 212.40,443.27" fill="#ff0000"/>
<polygon points="208.66,448.09 218.06,453.99 218.06,442.19" fill="#ff0000"/>
<polygon points="214.31,446.93 223.71,452.83 223.71,441.03" fill="#ff0000"/>
<polygon points="219.97,445.69 229.37,451.59 229.37,439.79" fill="#ff0000"/>
<polygon points="225.62,444.38 235.03,450.28 235.03,438.48" fill="#ff0000"/>
<polygon points="231.28,443.01 240.68,448.91 240.68,437.11" fill="#ff0000"/>
<polygon points="236.94,441.57 246.34,447.47 246.34,435.67" fill="#ff0000"/>
<polygon points="253.91,432.28 263.31,438.18 263.31,426.38" fill="#ff0000"/>
<polygon points="268.05,422.44 277.45,428.34 277.45,416.54" fill="#ff0000"/>
<polygon points="282.19,410.42 291.59,416.32 291.59,404.52" fill="#ff0000"/>
<polygon points="296.33,397.85 305.73,403.75 305.73,391.95" fill="#ff0000"/>
<polygon points="310.47,382.27 319.87,388.17 319.87,376.37" fill="#ff0000"/>
<polygon points="324.61,366.42 334.01,372.32 334.01,360.52" fill="#ff0000"/>
<polygon points="338.75,346.20 348.15,352.10 348.15,340.30" fill="#ff0000"/>
<polygon points="352.89,325.70 362.29,331.60 362.29,319.80" fill="#ff0000"/>
<polygon points="367.03,216.12 376.43,222.02 376.43,210.22" fill="#ff0000"/>
<polygon points="381.17,190.70 390.57,196.60 390.57,184.80" fill="#ff0000"/>
<polygon points="395.31,162.01 404.71,167.91 404.71,156.11" fill="#ff0000"/>
<polygon points="409.45,131.40 418.85,137.30 418.85,125.50" fill="#ff0000"/>
<polygon points="423.59,101.07 432.99,106.97 432.99,95.17" fill="#ff0000"/>
<polygon points="437.73,94.51 447.13,100.41 447.13,88.61" fill="#ff0000"/>
<polygon points="451.88,96.15 461.27,102.05 461.27,90.25" fill="#ff0000"/>
<polygon points="466.02,98.88 475.42,104.78 475.42,92.98" fill="#ff0000"/>
<polygon points="480.16,101.07 489.56,106.97 489.56,95.17" fill="#ff0000"/>
<polygon points="494.30,102.98 503.70,108.88 503.70,97.08" fill="#ff0000"/>
<polygon points="508.44,104.08 517.84,109.98 517.84,98.18" fill="#ff0000"/>
<polygon points="522.58,105.17 531.98,111.07 531.98,99.27" fill="#ff0000"/>
<polygon points="536.72,106.26 546.12,112.16 546.12,100.36" fill="#ff0000"/>
</g>
<g stroke="#000" stroke-width="2" fill="none" stroke-linecap="butt">
<rect x="119.0" y="80.3" width="452.5" height="491.9"/>
<line x1="175.56" y1="572.2" x2="175.56" y2="566.7"/>
<line x1="175.56" y1="80.3" x2="175.56" y2="85.8"/>
<line x1="232.12" y1="572.2" x2="232.12" y2="561.7"/>
<line x1="232.12" y1="80.3" x2="232.12" y2="90.8"/>
<line x1="288.69" y1="572.2" x2="288.69" y2="566.7"/>
<line x1="288.69" y1="80.3" x2="288.69" y2="85.8"/>
<line x1="345.25" y1="572.2" x2="345.25" y2="561.7"/>
<line x1="345.25" y1="80.3" x2="345.25" y2="90.8"/>
<line x1="401.81" y1="572.2" x2="401.81" y2="566.7"/>
<line x1="401.81" y1="80.3" x2="401.81" y2="85.8"/>
<line x1="458.38" y1="572.2" x2="458.38" y2="561.7"/>
<line x1="458.38" y1="80.3" x2="458.38" y2="90.8"/>
<line x1="514.94" y1="572.2" x2="514.94" y2="566.7"/>
<line x1="514.94" y1="80.3" x2="514.94" y2="85.8"/>
<line x1="119.0" y1="531.21" x2="124.5" y2="531.21"/>
<line x1="571.5" y1="531.21" x2="566.0" y2="531.21"/>
<line x1="119.0" y1="490.22" x2="129.5" y2="490.22"/>
<line x1="571.5" y1="490.22" x2="561.0" y2="490.22"/>
<line x1="119.0" y1="449.23" x2="124.5" y2="449.23"/>
<line x1="571.5" y1="449.23" x2="566.0" y2="449.23"/>
<line x1="119.0" y1="408.23" x2="129.5" y2="408.23"/>
<line x1="571.5" y1="408.23" x2="561.0" y2="408.23"/>
<line x1="119.0" y1="367.24" x2="124.5" y2="367.24"/>
<line x1="571.5" y1="367.24" x2="566.0" y2="367.24"/>
<line x1="119.0" y1="326.25" x2="129.5" y2="326.25"/>
<line x1="571.5" y1="326.25" x2="561.0" y2="326.25"/>
<line x1="119.0" y1="285.26" x2="124.5" y2="285.26"/>
<line x1="571.5" y1="285.26" x2="566.0" y2="285.26"/>
<line x1="119.0" y1="244.27" x2="129.5" y2="244.27"/>
<line x1="571.5" y1="244.27" x2="561.0" y2="244.27"/>
<line x1="119.0" y1="203.28" x2="124.5" y2="203.28"/>
<line x1="571.5" y1="203.28" x2="566.0" y2="203.28"/>
<line x1="119.0" y1="162.28" x2="129.5" y2="162.28"/>
<line x1="571.5" y1="162.28" x2="561.0" y2="162.28"/>
<line x1="119.0" y1="121.29" x2="124.5" y2="121.29"/>
<line x1="571.5" y1="121.29" x2="566.0" y2="121.29"/>
</g>
<g font-family="Liberation Serif, serif" font-size="31" fill="#000">
<text transform="translate(107.2,580.7) scale(1.035,1)" text-anchor="end">12</text>
<text transform="translate(107.2,498.7) scale(1.035,1)" text-anchor="end">15</text>
<text transform="translate(107.2,416.7) scale(1.035,1)" text-anchor="end">18</text>
<text transform="translate(107.2,334.8) scale(1.035,1)" text-anchor="end">21</text>
<text transform="translate(107.2,252.8) scale(1.035,1)" text-anchor="end">24</text>
<text transform="translate(107.2,170.8) scale(1.035,1)" text-anchor="end">27</text>
<text transform="translate(107.2,88.8) scale(1.035,1)" text-anchor="end">30</text>
<text x="118.7" y="613.5" text-anchor="middle">0</text>
<text x="231.8" y="613.5" text-anchor="middle">4</text>
<text x="344.9" y="613.5" text-anchor="middle">8</text>
<text x="458.1" y="613.5" text-anchor="middle">12</text>
<text x="571.2" y="613.5" text-anchor="middle">16</text>
</g>
<g fill="#000">
<text transform="translate(313.10,654.30) scale(1.000,1.000)" font-family="Liberation Sans, sans-serif" font-size="30.5" font-style="italic">T</text>
<text transform="translate(337.30,654.30) scale(1.000,1.000)" font-family="Liberation Sans, sans-serif" font-size="30.5" >(K)</text>
</g>
<g transform="translate(42.2,0) rotate(-90)" fill="#000">
<text transform="translate(-408.00,0.00) scale(1.200,1.000)" font-family="Liberation Sans, sans-serif" font-size="29" font-style="italic" stroke="#000" stroke-width="0.2">ρ</text>
<text transform="translate(-386.70,9.10) scale(1.000,1.000)" font-family="Liberation Sans, sans-serif" font-size="17.5" font-style="italic">ab</text>
<text transform="translate(-363.10,0.00) scale(0.850,0.720)" font-family="Liberation Serif, serif" font-size="28" >(</text>
<text transform="translate(-356.00,0.00) scale(1.000,1.000)" font-family="Liberation Serif, serif" font-size="27" >10</text>
<text transform="translate(-329.10,-12.80) scale(1.000,1.000)" font-family="Liberation Serif, serif" font-size="17" >−9</text>
<text transform="translate(-312.30,0.00) scale(1.000,1.000)" font-family="Liberation Serif, serif" font-size="28.5" >Ω</text>
<text transform="translate(-290.70,0.00) scale(1.000,1.000)" font-family="Liberation Serif, serif" font-size="26.5" >–</text>
<text transform="translate(-274.50,0.00) scale(0.900,1.000)" font-family="Liberation Serif, serif" font-size="28" >m</text>
<text transform="translate(-253.60,0.00) scale(1.000,0.720)" font-family="Liberation Serif, serif" font-size="28" >)</text>
</g>
<rect x="172.0" y="93.5" width="173.7" height="204.1" fill="#fff"/>
<line x1="261.12" y1="236.20" x2="262.01" y2="234.69" stroke="#8000ff" stroke-width="1.4"/><line x1="266.48" y1="226.89" x2="267.50" y2="225.08" stroke="#8000ff" stroke-width="1.4"/><line x1="269.94" y1="216.66" x2="274.90" y2="123.23" stroke="#8000ff" stroke-width="1.4"/><line x1="276.83" y1="114.57" x2="278.87" y2="109.54" stroke="#8000ff" stroke-width="1.4"/><line x1="280.89" y1="109.86" x2="285.66" y2="174.37" stroke="#8000ff" stroke-width="1.4"/><line x1="288.56" y1="175.16" x2="288.85" y2="174.75" stroke="#8000ff" stroke-width="1.4"/><line x1="293.45" y1="167.04" x2="294.82" y2="164.32" stroke="#8000ff" stroke-width="1.4"/><line x1="297.28" y1="164.78" x2="301.84" y2="211.48" stroke="#8000ff" stroke-width="1.4"/><line x1="302.62" y1="220.45" x2="307.36" y2="281.99" stroke="#8000ff" stroke-width="1.4"/>
<polygon points="193.71,275.65 196.96,282.05 190.46,282.05" fill="#fff" stroke="#8000ff" stroke-width="1" stroke-linejoin="miter"/><polygon points="193.71,275.65 196.96,282.05 193.71,282.05" fill="#8000ff"/>
<polygon points="195.88,274.54 199.13,280.94 192.63,280.94" fill="#fff" stroke="#8000ff" stroke-width="1" stroke-linejoin="miter"/><polygon points="195.88,274.54 199.13,280.94 195.88,280.94" fill="#8000ff"/>
<polygon points="198.06,273.79 201.31,280.19 194.81,280.19" fill="#fff" stroke="#8000ff" stroke-width="1" stroke-linejoin="miter"/><polygon points="198.06,273.79 201.31,280.19 198.06,280.19" fill="#8000ff"/>
<polygon points="200.23,273.42 203.48,279.82 196.98,279.82" fill="#fff" stroke="#8000ff" stroke-width="1" stroke-linejoin="miter"/><polygon points="200.23,273.42 203.48,279.82 200.23,279.82" fill="#8000ff"/>
<polygon points="202.40,273.05 205.65,279.45 199.15,279.45" fill="#fff" stroke="#8000ff" stroke-width="1" stroke-linejoin="miter"/><polygon points="202.40,273.05 205.65,279.45 202.40,279.45" fill="#8000ff"/>
<polygon points="204.57,273.05 207.82,279.45 201.32,279.45" fill="#fff" stroke="#8000ff" stroke-width="1" stroke-linejoin="miter"/><polygon points="204.57,273.05 207.82,279.45 204.57,279.45" fill="#8000ff"/>
<polygon points="206.74,272.68 209.99,279.08 203.49,279.08" fill="#fff" stroke="#8000ff" stroke-width="1" stroke-linejoin="miter"/><polygon points="206.74,272.68 209.99,279.08 206.74,279.08" fill="#8000ff"/>
<polygon points="208.91,272.31 212.16,278.71 205.66,278.71" fill="#fff" stroke="#8000ff" stroke-width="1" stroke-linejoin="miter"/><polygon points="208.91,272.31 212.16,278.71 208.91,278.71" fill="#8000ff"/>
<polygon points="211.08,271.94 214.33,278.34 207.83,278.34" fill="#fff" stroke="#8000ff" stroke-width="1" stroke-linejoin="miter"/><polygon points="211.08,271.94 214.33,278.34 211.08,278.34" fill="#8000ff"/>
<polygon points="213.25,271.94 216.50,278.34 210.00,278.34" fill="#fff" stroke="#8000ff" stroke-width="1" stroke-linejoin="miter"/><polygon points="213.25,271.94 216.50,278.34 213.25,278.34" fill="#8000ff"/>
<polygon points="215.43,271.94 218.68,278.34 212.18,278.34" fill="#fff" stroke="#8000ff" stroke-width="1" stroke-linejoin="miter"/><polygon points="215.43,271.94 218.68,278.34 215.43,278.34" fill="#8000ff"/>
<polygon points="217.60,267.49 220.85,273.89 214.35,273.89" fill="#fff" stroke="#8000ff" stroke-width="1" stroke-linejoin="miter"/><polygon points="217.60,267.49 220.85,273.89 217.60,273.89" fill="#8000ff"/>
<polygon points="219.77,269.71 223.02,276.11 216.52,276.11" fill="#fff" stroke="#8000ff" stroke-width="1" stroke-linejoin="miter"/><polygon points="219.77,269.71 223.02,276.11 219.77,276.11" fill="#8000ff"/>
<polygon points="226.28,268.97 229.53,275.37 223.03,275.37" fill="#fff" stroke="#8000ff" stroke-width="1" stroke-linejoin="miter"/><polygon points="226.28,268.97 229.53,275.37 226.28,275.37" fill="#8000ff"/>
<polygon points="231.71,263.03 234.96,269.43 228.46,269.43" fill="#fff" stroke="#8000ff" stroke-width="1" stroke-linejoin="miter"/><polygon points="231.71,263.03 234.96,269.43 231.71,269.43" fill="#8000ff"/>
<polygon points="237.14,257.84 240.39,264.24 233.89,264.24" fill="#fff" stroke="#8000ff" stroke-width="1" stroke-linejoin="miter"/><polygon points="237.14,257.84 240.39,264.24 237.14,264.24" fill="#8000ff"/>
<polygon points="242.57,252.64 245.82,259.04 239.32,259.04" fill="#fff" stroke="#8000ff" stroke-width="1" stroke-linejoin="miter"/><polygon points="242.57,252.64 245.82,259.04 242.57,259.04" fill="#8000ff"/>
<polygon points="247.99,248.56 251.24,254.96 244.74,254.96" fill="#fff" stroke="#8000ff" stroke-width="1" stroke-linejoin="miter"/><polygon points="247.99,248.56 251.24,254.96 247.99,254.96" fill="#8000ff"/>
<polygon points="253.42,243.36 256.67,249.76 250.17,249.76" fill="#fff" stroke="#8000ff" stroke-width="1" stroke-linejoin="miter"/><polygon points="253.42,243.36 256.67,249.76 253.42,249.76" fill="#8000ff"/>
<polygon points="258.85,236.68 262.10,243.08 255.60,243.08" fill="#fff" stroke="#8000ff" stroke-width="1" stroke-linejoin="miter"/><polygon points="258.85,236.68 262.10,243.08 258.85,243.08" fill="#8000ff"/>
<polygon points="264.28,227.41 267.53,233.81 261.03,233.81" fill="#fff" stroke="#8000ff" stroke-width="1" stroke-linejoin="miter"/><polygon points="264.28,227.41 267.53,233.81 264.28,233.81" fill="#8000ff"/>
<polygon points="269.71,217.76 272.96,224.16 266.46,224.16" fill="#fff" stroke="#8000ff" stroke-width="1" stroke-linejoin="miter"/><polygon points="269.71,217.76 272.96,224.16 269.71,224.16" fill="#8000ff"/>
<polygon points="275.13,115.33 278.38,121.73 271.88,121.73" fill="#fff" stroke="#8000ff" stroke-width="1" stroke-linejoin="miter"/><polygon points="275.13,115.33 278.38,121.73 275.13,121.73" fill="#8000ff"/>
<polygon points="280.56,101.98 283.81,108.38 277.31,108.38" fill="#fff" stroke="#8000ff" stroke-width="1" stroke-linejoin="miter"/><polygon points="280.56,101.98 283.81,108.38 280.56,108.38" fill="#8000ff"/>
<polygon points="285.99,175.45 289.24,181.85 282.74,181.85" fill="#fff" stroke="#8000ff" stroke-width="1" stroke-linejoin="miter"/><polygon points="285.99,175.45 289.24,181.85 285.99,181.85" fill="#8000ff"/>
<polygon points="291.42,167.66 294.67,174.06 288.17,174.06" fill="#fff" stroke="#8000ff" stroke-width="1" stroke-linejoin="miter"/><polygon points="291.42,167.66 294.67,174.06 291.42,174.06" fill="#8000ff"/>
<polygon points="296.85,156.90 300.10,163.30 293.60,163.30" fill="#fff" stroke="#8000ff" stroke-width="1" stroke-linejoin="miter"/><polygon points="296.85,156.90 300.10,163.30 296.85,163.30" fill="#8000ff"/>
<polygon points="302.27,212.56 305.52,218.96 299.02,218.96" fill="#fff" stroke="#8000ff" stroke-width="1" stroke-linejoin="miter"/><polygon points="302.27,212.56 305.52,218.96 302.27,218.96" fill="#8000ff"/>
<polygon points="307.70,283.07 310.95,289.47 304.45,289.47" fill="#fff" stroke="#8000ff" stroke-width="1" stroke-linejoin="miter"/><polygon points="307.70,283.07 310.95,289.47 307.70,289.47" fill="#8000ff"/>
<polygon points="313.13,281.77 316.38,288.17 309.88,288.17" fill="#fff" stroke="#8000ff" stroke-width="1" stroke-linejoin="miter"/><polygon points="313.13,281.77 316.38,288.17 313.13,288.17" fill="#8000ff"/>
<polygon points="318.56,279.36 321.81,285.76 315.31,285.76" fill="#fff" stroke="#8000ff" stroke-width="1" stroke-linejoin="miter"/><polygon points="318.56,279.36 321.81,285.76 318.56,285.76" fill="#8000ff"/>
<polygon points="323.99,277.13 327.24,283.53 320.74,283.53" fill="#fff" stroke="#8000ff" stroke-width="1" stroke-linejoin="miter"/><polygon points="323.99,277.13 327.24,283.53 323.99,283.53" fill="#8000ff"/>
<polygon points="329.42,279.36 332.67,285.76 326.17,285.76" fill="#fff" stroke="#8000ff" stroke-width="1" stroke-linejoin="miter"/><polygon points="329.42,279.36 332.67,285.76 329.42,285.76" fill="#8000ff"/>
<polygon points="334.84,281.59 338.09,287.99 331.59,287.99" fill="#fff" stroke="#8000ff" stroke-width="1" stroke-linejoin="miter"/><polygon points="334.84,281.59 338.09,287.99 334.84,287.99" fill="#8000ff"/>
<line x1="226.28" y1="274.97" x2="269.71" y2="226.35" stroke="#000" stroke-width="2.4"/>
<g stroke="#000" stroke-width="1.7" fill="none">
<rect x="172.0" y="93.5" width="173.7" height="204.1"/>
<line x1="193.71" y1="297.6" x2="193.71" y2="293.2"/>
<line x1="193.71" y1="93.5" x2="193.71" y2="97.9"/>
<line x1="215.43" y1="297.6" x2="215.43" y2="289.6"/>
<line x1="215.43" y1="93.5" x2="215.43" y2="101.5"/>
<line x1="237.14" y1="297.6" x2="237.14" y2="293.2"/>
<line x1="237.14" y1="93.5" x2="237.14" y2="97.9"/>
<line x1="258.85" y1="297.6" x2="258.85" y2="289.6"/>
<line x1="258.85" y1="93.5" x2="258.85" y2="101.5"/>
<line x1="280.56" y1="297.6" x2="280.56" y2="293.2"/>
<line x1="280.56" y1="93.5" x2="280.56" y2="97.9"/>
<line x1="302.27" y1="297.6" x2="302.27" y2="289.6"/>
<line x1="302.27" y1="93.5" x2="302.27" y2="101.5"/>
<line x1="323.99" y1="297.6" x2="323.99" y2="293.2"/>
<line x1="323.99" y1="93.5" x2="323.99" y2="97.9"/>
<line x1="172.0" y1="279.05" x2="180.0" y2="279.05"/>
<line x1="345.7" y1="279.05" x2="337.7" y2="279.05"/>
<line x1="172.0" y1="260.50" x2="176.4" y2="260.50"/>
<line x1="345.7" y1="260.50" x2="341.3" y2="260.50"/>
<line x1="172.0" y1="241.94" x2="180.0" y2="241.94"/>
<line x1="345.7" y1="241.94" x2="337.7" y2="241.94"/>
<line x1="172.0" y1="223.38" x2="176.4" y2="223.38"/>
<line x1="345.7" y1="223.38" x2="341.3" y2="223.38"/>
<line x1="172.0" y1="204.83" x2="180.0" y2="204.83"/>
<line x1="345.7" y1="204.83" x2="337.7" y2="204.83"/>
<line x1="172.0" y1="186.28" x2="176.4" y2="186.28"/>
<line x1="345.7" y1="186.28" x2="341.3" y2="186.28"/>
<line x1="172.0" y1="167.72" x2="180.0" y2="167.72"/>
<line x1="345.7" y1="167.72" x2="337.7" y2="167.72"/>
<line x1="172.0" y1="149.16" x2="176.4" y2="149.16"/>
<line x1="345.7" y1="149.16" x2="341.3" y2="149.16"/>
<line x1="172.0" y1="130.61" x2="180.0" y2="130.61"/>
<line x1="345.7" y1="130.61" x2="337.7" y2="130.61"/>
<line x1="172.0" y1="112.06" x2="176.4" y2="112.06"/>
<line x1="345.7" y1="112.06" x2="341.3" y2="112.06"/>
</g>
<g fill="#000" text-anchor="middle">
<text transform="translate(159.80,285.05) scale(0.820,1.000)" font-family="Liberation Serif, serif" font-size="20" >0</text>
<text transform="translate(159.80,247.94) scale(0.820,1.000)" font-family="Liberation Serif, serif" font-size="20" >1</text>
<text transform="translate(159.80,210.83) scale(0.820,1.000)" font-family="Liberation Serif, serif" font-size="20" >2</text>
<text transform="translate(159.80,173.72) scale(0.820,1.000)" font-family="Liberation Serif, serif" font-size="20" >3</text>
<text transform="translate(159.80,136.61) scale(0.820,1.000)" font-family="Liberation Serif, serif" font-size="20" >4</text>
<text transform="translate(159.80,99.50) scale(0.820,1.000)" font-family="Liberation Serif, serif" font-size="20" >5</text>
<text transform="translate(171.70,318.90) scale(0.820,1.000)" font-family="Liberation Serif, serif" font-size="20" >0</text>
<text transform="translate(215.12,318.90) scale(0.820,1.000)" font-family="Liberation Serif, serif" font-size="20" >4</text>
<text transform="translate(258.55,318.90) scale(0.820,1.000)" font-family="Liberation Serif, serif" font-size="20" >8</text>
<text transform="translate(301.97,318.90) scale(0.820,1.000)" font-family="Liberation Serif, serif" font-size="20" >12</text>
<text transform="translate(345.40,318.90) scale(0.820,1.000)" font-family="Liberation Serif, serif" font-size="20" >16</text>
</g>
<g transform="translate(144.2,0) rotate(-90)" fill="#000">
<text transform="translate(-271.20,0.00) scale(1.000,1.000)" font-family="Liberation Sans, sans-serif" font-size="16" >d</text>
<text transform="translate(-262.80,0.00) scale(1.100,1.000)" font-family="Liberation Sans, sans-serif" font-size="16" font-style="italic">ρ</text>
<text transform="translate(-253.30,4.00) scale(1.000,1.000)" font-family="Liberation Sans, sans-serif" font-size="10.5" font-style="italic">ab</text>
<text transform="translate(-244.00,0.00) scale(1.000,1.000)" font-family="Liberation Sans, sans-serif" font-size="16" >/</text>
<text transform="translate(-239.00,0.00) scale(1.000,1.000)" font-family="Liberation Sans, sans-serif" font-size="16" >d</text>
<text transform="translate(-229.60,0.00) scale(1.000,1.000)" font-family="Liberation Sans, sans-serif" font-size="16" font-style="italic">T</text>
<text transform="translate(-211.00,0.00) scale(1.000,0.800)" font-family="Liberation Serif, serif" font-size="15.5" >(</text>
<text transform="translate(-205.60,0.00) scale(0.920,1.000)" font-family="Liberation Serif, serif" font-size="15.5" >10</text>
<text transform="translate(-190.60,-6.40) scale(1.100,1.000)" font-family="Liberation Serif, serif" font-size="9.5" >−9</text>
<text transform="translate(-178.50,0.00) scale(1.000,1.000)" font-family="Liberation Serif, serif" font-size="16.5" >Ω</text>
<text transform="translate(-165.20,0.00) scale(1.000,1.000)" font-family="Liberation Serif, serif" font-size="15.5" >–</text>
<text transform="translate(-156.40,0.00) scale(0.950,1.000)" font-family="Liberation Serif, serif" font-size="15.5" >m</text>
<text transform="translate(-144.10,0.00) scale(1.000,1.000)" font-family="Liberation Serif, serif" font-size="15.5" >–</text>
<text transform="translate(-135.80,0.00) scale(0.950,1.000)" font-family="Liberation Serif, serif" font-size="15.5" >K</text>
<text transform="translate(-124.20,-6.40) scale(1.100,1.000)" font-family="Liberation Serif, serif" font-size="9.5" >−1</text>
<text transform="translate(-111.90,0.00) scale(1.000,0.800)" font-family="Liberation Serif, serif" font-size="15.5" >)</text>
</g>
<g fill="#000">
<text transform="translate(182.80,126.50) scale(0.780,1.000)" font-family="Liberation Serif, serif" font-size="29" font-style="italic">B</text>
<text transform="translate(196.90,126.50) scale(0.900,1.000)" font-family="Liberation Serif, serif" font-size="29" >=</text>
<text transform="translate(213.20,126.50) scale(0.900,1.000)" font-family="Liberation Serif, serif" font-size="29" fill="#8000ff">0</text>
<text transform="translate(231.80,126.50) scale(0.860,1.000)" font-family="Liberation Serif, serif" font-size="29" >T</text>
</g>
<g fill="#000">
<text transform="translate(415.30,340.00) scale(0.800,1.000)" font-family="Liberation Serif, serif" font-size="28.5" font-style="italic">B</text>
<text transform="translate(438.60,340.00) scale(0.930,1.000)" font-family="Liberation Serif, serif" font-size="28.5" >(T)</text>
<line x1="486.7" y1="317.6" x2="486.7" y2="346.6" stroke="#000" stroke-width="1.3"/>
<line x1="501.7" y1="317.6" x2="501.7" y2="346.6" stroke="#000" stroke-width="1.3"/>
<text transform="translate(508.00,340.00) scale(1.000,1.000)" font-family="Liberation Serif, serif" font-size="28.5" font-style="italic">c</text>
<text transform="translate(518.20,340.00) scale(1.000,1.000)" font-family="Liberation Serif, serif" font-size="28.5" letter-spacing="-1.5">-axis</text>
</g>
<g font-family="Liberation Serif, serif" font-size="27.5" font-weight="bold" letter-spacing="0.3">
<text x="468.0" y="383.5" fill="#8000ff">0.00</text>
<text x="468.0" y="418.2" fill="#000080">0.25</text>
<text x="468.0" y="452.9" fill="#0000ff">0.50</text>
<text x="468.0" y="487.4" fill="#00ff00">0.75</text>
<text x="468.0" y="522.8" fill="#800000">1<tspan dx="-3.6">.</tspan>00</text>
<text x="468.0" y="560.3" fill="#ff0000">1<tspan dx="-3.6">.</tspan>25</text>
</g>
</svg>
</body></html>
